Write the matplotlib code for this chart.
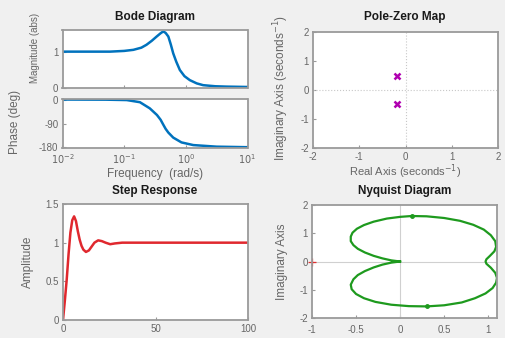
import matplotlib
matplotlib.use("Agg")
import matplotlib.pyplot as plt

plt.rcParams['font.family'] = ['Liberation Sans', 'DejaVu Sans']
plt.rcParams['axes.unicode_minus'] = False

# Bode magnitude
mag_freq = [0.01, 0.03, 0.059, 0.1, 0.141, 0.19, 0.23, 0.28, 0.337, 0.39, 0.43,
            0.47, 0.52, 0.57, 0.625, 0.7, 0.80, 0.95, 1.16, 1.5, 1.91, 3.0, 4.57, 10]
mag_vals = [1.0, 1.0, 1.0, 1.02, 1.05, 1.11, 1.19, 1.30, 1.42, 1.51, 1.56,
            1.52, 1.42, 1.20, 0.95, 0.72, 0.49, 0.32, 0.21, 0.12, 0.07, 0.04, 0.03, 0.02]

# Bode phase
ph_freq = [0.01, 0.05, 0.11, 0.18, 0.26, 0.34, 0.39, 0.43, 0.47, 0.52, 0.625,
           0.85, 1.32, 3.16, 10]
ph_vals = [0, -0.5, -2, -10, -33, -58, -76, -94, -110, -124, -143,
           -161, -171, -177, -179]

# Pole-zero map
pole_re = [-0.19, -0.19]
pole_im = [0.47, -0.47]

# Step response
step_t = [0, 1, 2, 3, 4, 5, 6, 7, 8, 9, 10, 11, 12.4, 14, 15.5, 17, 19, 21,
          23, 25.5, 28, 32, 40, 60, 80, 100]
step_y = [0, 0.25, 0.52, 0.85, 1.13, 1.29, 1.34, 1.28, 1.15, 1.04, 0.96, 0.91,
          0.88, 0.90, 0.95, 1.0, 1.03, 1.02, 1.0, 0.98, 0.99, 1.0, 1.0, 1.0, 1.0, 1.0]

# Nyquist curve
nyq_re = [0, -0.1, -0.2, -0.3, -0.4, -0.48, -0.53, -0.56, -0.56, -0.54, -0.49,
          -0.41, -0.3, -0.15, 0.0, 0.13, 0.3, 0.5, 0.68, 0.83, 0.95, 1.03, 1.08,
          1.09, 1.07, 1.02, 0.98, 0.97,
          0.98, 1.03, 1.08, 1.10, 1.09, 1.05, 0.97, 0.85, 0.7, 0.5, 0.3, 0.1,
          -0.1, -0.28, -0.41, -0.5, -0.55, -0.56, -0.53, -0.48, -0.4, -0.3,
          -0.2, -0.1, 0]
nyq_im = [0, 0.04, 0.11, 0.2, 0.32, 0.45, 0.58, 0.72, 0.88, 1.02, 1.16,
          1.29, 1.41, 1.52, 1.58, 1.61, 1.6, 1.54, 1.44, 1.3, 1.13, 0.93, 0.72,
          0.52, 0.36, 0.2, 0.08, 0,
          -0.08, -0.22, -0.4, -0.58, -0.75, -0.94, -1.13, -1.3, -1.45, -1.55, -1.59,
          -1.58, -1.53, -1.43, -1.3, -1.15, -0.98, -0.82, -0.63, -0.48, -0.34, -0.21,
          -0.11, -0.04, 0]
arrow_re = [0.13, 0.30]
arrow_im = [1.61, -1.59]

blue = '#0072BD'
tick_c = '#666666'
frame_c = '#9a9a9a'
title_c = '#1a1a1a'

fig = plt.figure(figsize=(5.05, 3.38), dpi=100)
fig.patch.set_facecolor('#f0f0f0')

W, H = 505.0, 338.0


def style(ax):
    for s in ax.spines.values():
        s.set_color(frame_c)
        s.set_linewidth(1.3)
    ax.tick_params(direction='in', length=2, labelsize=7, colors=tick_c,
                   color=frame_c, pad=3)


def box(l, t, r, b):
    return [l / W, 1 - b / H, (r - l) / W, (b - t) / H]


def ftext(x, y, s, size=8, rot=0, bold=False, color=tick_c):
    fig.text(x / W, 1 - y / H, s, rotation=rot, fontsize=size, color=color,
             fontweight='bold' if bold else 'normal', ha='center', va='center')


# Bode magnitude
ax1 = fig.add_axes(box(62.5, 30, 247.5, 87.7))
ax1.semilogx(mag_freq, mag_vals, color=blue, lw=1.8)
ax1.set_xlim(0.01, 10)
ax1.set_ylim(0, 1.6)
ax1.set_yticks([0, 1])
ax1.set_yticklabels(['0', '1'])
ax1.set_xticks([0.01, 0.1, 1, 10])
ax1.set_xticklabels([])
ax1.minorticks_off()
style(ax1)
ftext(35, 48, 'Magnitude (abs)', size=7, rot=90)

# Bode phase
ax2 = fig.add_axes(box(62.5, 99, 247.5, 148))
ax2.semilogx(ph_freq, ph_vals, color=blue, lw=1.8)
ax2.set_xlim(0.01, 10)
ax2.set_ylim(-182, 2)
ax2.set_yticks([0, -90, -180])
ax2.set_yticklabels(['0', '-90', '-180'])
ax2.set_xticks([0.01, 0.1, 1, 10])
ax2.set_xticklabels(['$10^{-2}$', '$10^{-1}$', '$10^{0}$', '$10^{1}$'])
ax2.minorticks_off()
style(ax2)
ftext(15, 122, 'Phase (deg)', size=8.5, rot=90)
ftext(155, 174, 'Frequency  (rad/s)', size=8.5)
ftext(155, 17, 'Bode Diagram', size=8.5, bold=True, color=title_c)

# Pole-zero map
ax3 = fig.add_axes(box(313, 32, 498, 148))
ax3.axhline(0, color='#c8c8c8', lw=0.8, ls=':')
ax3.axvline(0, color='#c8c8c8', lw=0.8, ls=':')
ax3.plot(pole_re, pole_im, 'x', color='#b000b0', ms=5, mew=1.8)
ax3.set_xlim(-2, 2)
ax3.set_ylim(-2, 2)
ax3.set_xticks([-2, -1, 0, 1, 2])
ax3.set_yticks([-2, -1, 0, 1, 2])
style(ax3)
ftext(405, 172, 'Real Axis (seconds$^{-1}$)', size=8)
ftext(281, 88, 'Imaginary Axis (seconds$^{-1}$)', size=8.5, rot=90)
ftext(405, 17, 'Pole-Zero Map', size=8.5, bold=True, color=title_c)

# Step response
ax4 = fig.add_axes(box(63, 204, 248, 320))
ax4.plot(step_t, step_y, color='#e0282e', lw=1.8)
ax4.set_xlim(0, 100)
ax4.set_ylim(0, 1.5)
ax4.set_xticks([0, 50, 100])
ax4.set_yticks([0, 0.5, 1, 1.5])
ax4.set_yticklabels(['0', '0.5', '1', '1.5'])
style(ax4)
ftext(28, 262, 'Amplitude', size=8.5, rot=90)
ftext(155, 191, 'Step Response', size=8.5, bold=True, color=title_c)

# Nyquist diagram
ax5 = fig.add_axes(box(312, 205, 497, 318))
ax5.axhline(0, color='#d0d0d0', lw=0.8)
ax5.axvline(0, color='#d0d0d0', lw=0.8)
ax5.plot(nyq_re, nyq_im, color='#1e9a1e', lw=1.6)
ax5.plot(arrow_re, arrow_im, 'o', color='#1e9a1e', ms=2.5)
ax5.plot([-1], [0], '+', color='#e03030', ms=6, mew=0.9, clip_on=False)
ax5.set_xlim(-1, 1.1)
ax5.set_ylim(-2, 2)
ax5.set_xticks([-1, -0.5, 0, 0.5, 1])
ax5.set_xticklabels(['-1', '-0.5', '0', '0.5', '1'])
ax5.set_yticks([-2, -1, 0, 1, 2])
style(ax5)
ax5.tick_params(axis='x', pad=5)
ftext(282, 262, 'Imaginary Axis', size=8.5, rot=90)
ftext(405, 191, 'Nyquist Diagram', size=8.5, bold=True, color=title_c)

fig.savefig('out.png', dpi=100, facecolor=fig.get_facecolor())
